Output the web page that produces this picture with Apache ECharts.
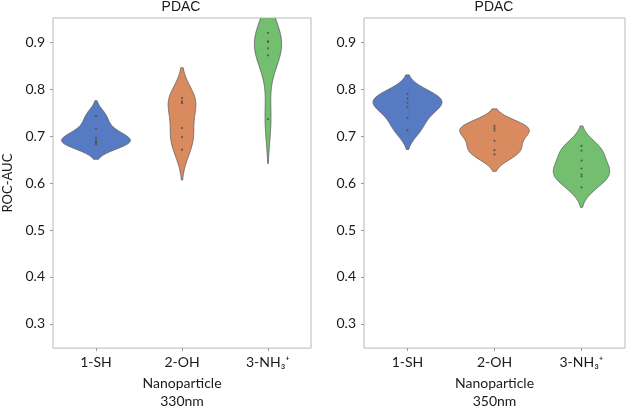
<!DOCTYPE html>
<html>
<head>
<meta charset="utf-8">
<script src="https://cdn.jsdelivr.net/npm/echarts@6/dist/echarts.min.js"></script>
<style>
  html, body { margin: 0; padding: 0; background: #fff; }
  #chart { width: 627px; height: 415px; }
</style>
</head>
<body>
<div id="chart"></div>
<script>
// nanoparticle categories (x axis)
const categories = ["1-SH", "2-OH", "3-NH\u2083\u207A"];

// ROC-AUC values per nanoparticle, 330nm panel
const sh330 = [0.743, 0.716, 0.696, 0.690, 0.686, 0.683];
const oh330 = [0.781, 0.774, 0.770, 0.717, 0.698, 0.671];
const nh330 = [0.920, 0.901, 0.901, 0.887, 0.872, 0.736];

// 350nm panel
const sh350 = [0.790, 0.780, 0.771, 0.762, 0.739, 0.712];
const oh350 = [0.722, 0.717, 0.712, 0.690, 0.670, 0.661];
const nh350 = [0.679, 0.669, 0.648, 0.631, 0.618, 0.614, 0.591];

const yMin = 0.2485;
const yMax = 0.9515;
const colors = ["#577bc2", "#d98b5f", "#73bf6f"];
const labelFont = 'Lato, "DejaVu Sans", sans-serif';

// gaussian kde, scott bandwidth, cut = 2 (like seaborn's violinplot)
const kde = (values, gridsize = 100, cut = 2) => {
  const n = values.length;
  const mean = values.reduce((a, b) => a + b, 0) / n;
  const sd = Math.sqrt(values.reduce((a, v) => a + (v - mean) ** 2, 0) / (n - 1));
  const bw = sd * Math.pow(n, -0.2);
  const lo = Math.min(...values) - cut * bw;
  const hi = Math.max(...values) + cut * bw;
  const out = [];
  for (let i = 0; i < gridsize; i++) {
    const y = lo + ((hi - lo) * i) / (gridsize - 1);
    let d = 0;
    values.forEach((v) => {
      const z = (y - v) / bw;
      d += Math.exp(-0.5 * z * z);
    });
    out.push([y, d / (n * bw * Math.sqrt(2 * Math.PI))]);
  }
  return out;
};

const panels = [
  { name: "330nm", groups: [sh330, oh330, nh330] },
  { name: "350nm", groups: [sh350, oh350, nh350] },
];

const series = [];
panels.forEach((panel, pi) => {
  const dens = panel.groups.map((g) => kde(g));
  // scale="area": one common max for the panel
  const maxD = Math.max(...dens.map((d) => Math.max(...d.map((p) => p[1]))));
  series.push({
    type: "custom",
    xAxisIndex: pi,
    yAxisIndex: pi,
    data: panel.groups.map((g, i) => [i, g[0]]),
    renderItem: (params, api) => {
      const k = api.value(0);
      const band = api.size([1, 0])[0];
      const right = [];
      const left = [];
      dens[k].forEach(([y, d]) => {
        const p = api.coord([k, y]);
        const w = (d / maxD) * band * 0.4;
        right.push([p[0] + w, p[1]]);
        left.unshift([p[0] - w, p[1]]);
      });
      const cs = params.coordSys;
      return {
        type: "group",
        clipPath: {
          type: "rect",
          shape: { x: cs.x, y: cs.y, width: cs.width, height: cs.height },
        },
        children: [
          {
            type: "polygon",
            shape: { points: right.concat(left) },
            style: { fill: colors[k], stroke: "#5f5f5f", lineWidth: 0.8 },
          },
        ],
      };
    },
    z: 2,
  });
  // inner="point"
  series.push({
    type: "scatter",
    xAxisIndex: pi,
    yAxisIndex: pi,
    symbolSize: 2.2,
    itemStyle: { color: "#4a4a4a" },
    data: panel.groups.flatMap((g, i) => g.map((v) => [i, v])),
    silent: true,
    z: 3,
  });
});

const makeX = (pi, name) => ({
  type: "category",
  gridIndex: pi,
  data: categories,
  boundaryGap: true,
  axisLine: { show: false },
  axisTick: { show: true, alignWithLabel: true, length: 3, lineStyle: { color: "#999" } },
  axisLabel: { fontFamily: labelFont, fontSize: 14, color: "#1a1a1a", margin: 7 },
  name: "Nanoparticle\n" + name,
  nameLocation: "middle",
  nameGap: 24,
  nameTextStyle: { fontFamily: labelFont, fontSize: 14, color: "#1a1a1a", lineHeight: 18, verticalAlign: "top" },
});

const makeY = (pi, withName) => ({
  type: "value",
  gridIndex: pi,
  min: yMin,
  max: yMax,
  minInterval: 0.1,
  maxInterval: 0.1,
  axisLine: { show: false },
  splitLine: { show: false },
  axisTick: { show: true, length: 3, lineStyle: { color: "#999" } },
  axisLabel: {
    fontFamily: labelFont,
    fontSize: 14,
    color: "#1a1a1a",
    margin: 8,
    showMinLabel: false,
    showMaxLabel: false,
    formatter: (v) => v.toFixed(1),
  },
  name: withName ? "ROC-AUC" : "",
  nameLocation: "middle",
  nameGap: 39,
  nameTextStyle: { fontFamily: labelFont, fontSize: 13, color: "#1a1a1a" },
});

const titleStyle = { fontFamily: "Liberation Sans, Arial", fontSize: 14, fontWeight: "normal", color: "#1a1a1a", lineHeight: 14 };

const chart = echarts.init(document.getElementById("chart"), null, { renderer: "canvas" });
chart.setOption({
  animation: false,
  backgroundColor: "#ffffff",
  title: [
    { text: "PDAC", left: 181, top: 0, padding: 0, textAlign: "center", textStyle: titleStyle },
    { text: "PDAC", left: 494, top: 0, padding: 0, textAlign: "center", textStyle: titleStyle },
  ],
  grid: [
    { left: 49, top: 18, width: 262, height: 341, show: true, borderColor: "#b8b8b8", borderWidth: 1, backgroundColor: "transparent" },
    { left: 364, top: 18, width: 261, height: 341, show: true, borderColor: "#b8b8b8", borderWidth: 1, backgroundColor: "transparent" },
  ],
  xAxis: [makeX(0, "330nm"), makeX(1, "350nm")],
  yAxis: [makeY(0, true), makeY(1, false)],
  series: series,
});
</script>
</body>
</html>
